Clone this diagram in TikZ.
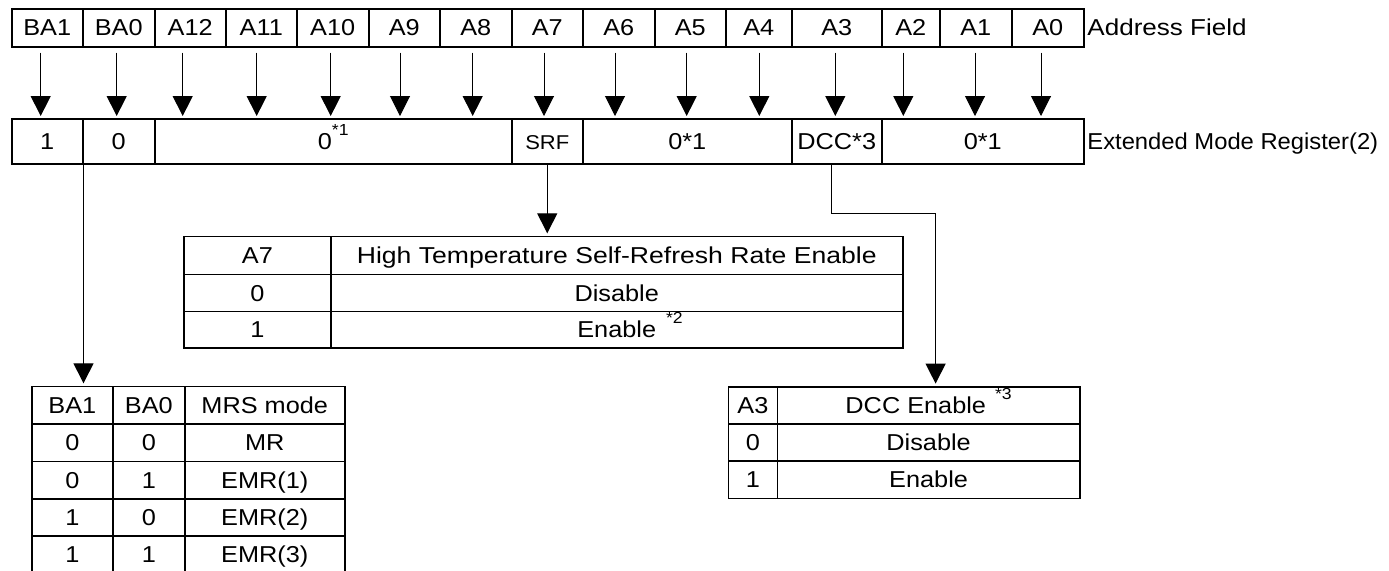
\documentclass[tikz,border=0pt]{standalone}
\usepackage{fontspec}
\setmainfont{Liberation Sans}[FakeStretch=1.1]
\usetikzlibrary{arrows.meta}
\newcommand{\supmark}[1]{\raisebox{7pt}{\fontsize{8pt}{9pt}\selectfont #1}}
\newcommand{\cellbox}[6]{\node[cell, minimum width={(#3-#2)*0.5pt}, minimum height={(#5-#4)*0.5pt}] (#1) at (#2,#4) {#6};}
\begin{document}
\begin{tikzpicture}[x=0.5pt,y=-0.5pt,
  txt/.style={inner sep=0pt, text height=8.2pt, text depth=0pt, font=\fontsize{11.5pt}{13pt}\selectfont},
  cell/.style={txt, draw, line width=0.75pt, anchor=north west},
  arr/.style={line width=0.5pt, -{Triangle[length=10pt,width=10pt]}, shorten <=2.5pt, shorten >=1pt},
  arr2/.style={line width=0.65pt, -{Triangle[length=10pt,width=10pt]}, shorten >=1.2pt},
  lbl/.style={txt, anchor=west}]
\useasboundingbox (0,0) rectangle (1389,570);
\clip (0,0) rectangle (1389,570);
% Address field
\cellbox{t1}{11}{82}{8}{46}{BA1}
\cellbox{t2}{82}{154}{8}{46}{BA0}
\cellbox{t3}{154}{225}{8}{46}{A12}
\cellbox{t4}{225}{296}{8}{46}{A11}
\cellbox{t5}{296}{368}{8}{46}{A10}
\cellbox{t6}{368}{439}{8}{46}{A9}
\cellbox{t7}{439}{511}{8}{46}{A8}
\cellbox{t8}{511}{582}{8}{46}{A7}
\cellbox{t9}{582}{654}{8}{46}{A6}
\cellbox{t10}{654}{725}{8}{46}{A5}
\cellbox{t11}{725}{791}{8}{46}{A4}
\cellbox{t12}{791}{881}{8}{46}{A3}
\cellbox{t13}{881}{939}{8}{46}{A2}
\cellbox{t14}{939}{1011}{8}{46}{A1}
\cellbox{t15}{1011}{1083}{8}{46}{A0}
\node[lbl] (af) at (1087,27) {\scalebox{1.03}[1]{Address Field}};
% Register
\cellbox{r1}{11}{82}{118}{163}{1}
\cellbox{r2}{82}{154}{118}{163}{0}
\cellbox{r3}{154}{511}{118}{163}{0\supmark{*1}}
\cellbox{r4}{511}{582}{118}{163}{\fontsize{10pt}{12pt}\selectfont SRF}
\cellbox{r5}{582}{791}{118}{163}{0*1}
\cellbox{r6}{791}{881}{118}{163}{DCC*3}
\cellbox{r7}{881}{1083}{118}{163}{0*1}
\node[lbl] (emr) at (1087,141) {\scalebox{0.94}[1]{Extended Mode Register(2)}};
% arrows
\foreach \a/\b/\x in {t1/r1/40.7, t2/r2/116.7, t3/r3/182.7, t4/r3/256.7, t5/r3/330.7, t6/r3/400, t7/r3/472.7, t8/r4/544, t9/r5/615, t10/r5/686.7, t11/r5/759.3, t12/r6/835.3, t13/r7/903.3, t14/r7/975, t15/r7/1041}
  \draw[arr] (\a.south -| \x,0) -- (\b.north -| \x,0);
% A7 table
\cellbox{a11}{183.3}{330}{235.7}{273.7}{A7}
\cellbox{a12}{330}{902}{235.7}{273.7}{\scalebox{1.05}[1]{High Temperature Self-Refresh Rate Enable}}
\cellbox{a21}{183.3}{330}{273.7}{310.7}{0}
\cellbox{a22}{330}{902}{273.7}{310.7}{Disable}
\cellbox{a31}{183.3}{330}{310.7}{347.3}{1}
\cellbox{a32}{330}{902}{310.7}{347.3}{Enable\rlap{\hspace{5pt}\supmark{*2}}}
% BA table
\cellbox{b11}{31}{112.3}{385.7}{423}{BA1}
\cellbox{b12}{112.3}{184}{385.7}{423}{BA0}
\cellbox{b13}{184}{344}{385.7}{423}{MRS mode}
\cellbox{b21}{31}{112.3}{423}{460.5}{0}
\cellbox{b22}{112.3}{184}{423}{460.5}{0}
\cellbox{b23}{184}{344}{423}{460.5}{MR}
\cellbox{b31}{31}{112.3}{460.5}{498}{0}
\cellbox{b32}{112.3}{184}{460.5}{498}{1}
\cellbox{b33}{184}{344}{460.5}{498}{EMR(1)}
\cellbox{b41}{31}{112.3}{498}{535}{1}
\cellbox{b42}{112.3}{184}{498}{535}{0}
\cellbox{b43}{184}{344}{498}{535}{EMR(2)}
\cellbox{b51}{31}{112.3}{535}{573}{1}
\cellbox{b52}{112.3}{184}{535}{573}{1}
\cellbox{b53}{184}{344}{535}{573}{EMR(3)}
% DCC table
\cellbox{d11}{727.7}{776.7}{386}{423}{A3}
\cellbox{d12}{776.7}{1079}{386}{423}{DCC Enable\hspace{4.5pt}\supmark{*3}}
\cellbox{d21}{727.7}{776.7}{423}{460}{0}
\cellbox{d22}{776.7}{1079}{423}{460}{Disable}
\cellbox{d31}{727.7}{776.7}{460}{497.5}{1}
\cellbox{d32}{776.7}{1079}{460}{497.5}{Enable}
% connectors to tables
\draw[arr2] (r4.south) -- (r4.south |- a12.north);
\draw[arr2] (r1.south east) -- (r1.south east |- b11.north);
\draw[arr2] ([xshift=-2.5pt]r6.south) -- ++(0,48.7) -| ([xshift=3.5pt]d12.north);
\end{tikzpicture}
\end{document}
